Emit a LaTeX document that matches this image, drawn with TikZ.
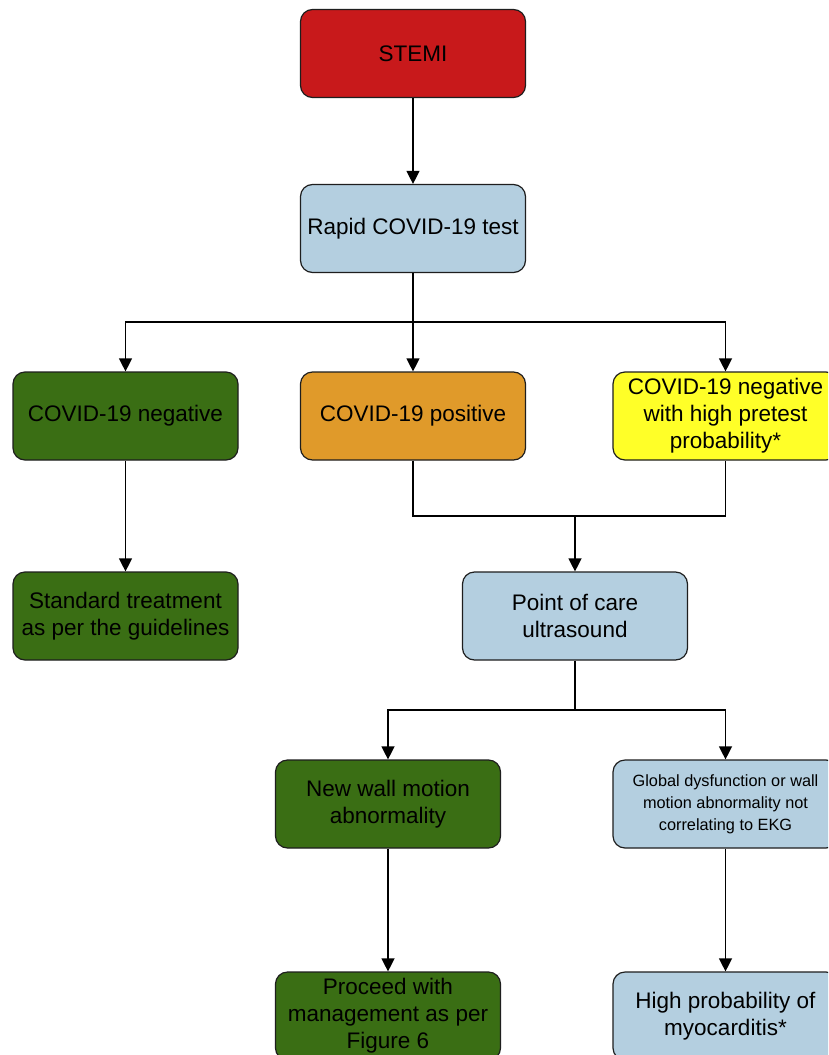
\documentclass[tikz,border=0pt]{standalone}
\usepackage{fontspec}
\setmainfont{Liberation Sans}
\usetikzlibrary{arrows.meta}
\definecolor{cred}{RGB}{200,25,27}
\definecolor{cblue}{RGB}{180,207,224}
\definecolor{cgreen}{RGB}{58,110,20}
\definecolor{corange}{RGB}{224,154,42}
\definecolor{cyellow}{RGB}{255,255,40}
\definecolor{cline}{RGB}{30,30,30}
\tikzset{
  box/.style={draw=cline, line width=1.2pt, rounded corners=12pt, minimum width=225pt, minimum height=88pt,
    align=center, inner sep=4pt, text=black, font=\fontsize{22.5}{27}\selectfont},
  smallbox/.style={box, font=\fontsize{16.3}{22}\selectfont},
  conn/.style={draw=black, line width=1.3pt},
  arr/.style={conn, -{Triangle[width=13pt,length=13pt]}}
}
\begin{document}
\begin{tikzpicture}[x=1pt,y=-1pt]
\useasboundingbox (0,0) rectangle (828,1055);
\clip (0,0) rectangle (828,1055);
\fill[white] (0,0) rectangle (828,1055);
\node[box, fill=cred] (stemi) at (413,53.5) {STEMI};
\node[box, fill=cblue] (rapid) at (413,228.5) {Rapid COVID-19 test};
\node[box, fill=cgreen] (neg) at (125.5,416) {COVID-19 negative};
\node[box, fill=corange] (pos) at (413,416) {COVID-19 positive};
\node[box, fill=cyellow] (yel) at (725.5,416) {COVID-19 negative\\with high pretest\\probability*};
\node[box, fill=cgreen] (std) at (125.5,616) {Standard treatment\\as per the guidelines};
\node[box, fill=cblue] (poc) at (575,616) {Point of care\\ultrasound};
\node[box, fill=cgreen] (nwm) at (388,804) {New wall motion\\abnormality};
\node[smallbox, fill=cblue] (glob) at (725.5,804) {Global dysfunction or wall\\motion abnormality not\\correlating to EKG};
\node[box, fill=cgreen] (proc) at (388,1016) {Proceed with\\management as per\\Figure 6};
\node[box, fill=cblue] (myo) at (725.5,1016) {High probability of\\myocarditis*};

\coordinate (j1) at (413,322);
\coordinate (j2a) at (413,516);
\coordinate (j2b) at (725.5,516);
\coordinate (j2) at (575,516);
\coordinate (j3) at (575,710);

\draw[arr] (stemi) -- (rapid);
\draw[conn] (rapid) -- (j1);
\draw[arr] (j1) -| (neg);
\draw[arr] (j1) -- (pos);
\draw[arr] (j1) -| (yel);
\draw[arr] (neg) -- (std);
\draw[conn] (pos) -- (j2a) -- (j2b) -- (yel);
\draw[arr] (j2) -- (poc);
\draw[conn] (poc) -- (j3);
\draw[arr] (j3) -| (nwm);
\draw[arr] (j3) -| (glob);
\draw[arr] (nwm) -- (proc);
\draw[arr] (glob) -- (myo);
\end{tikzpicture}
\end{document}
